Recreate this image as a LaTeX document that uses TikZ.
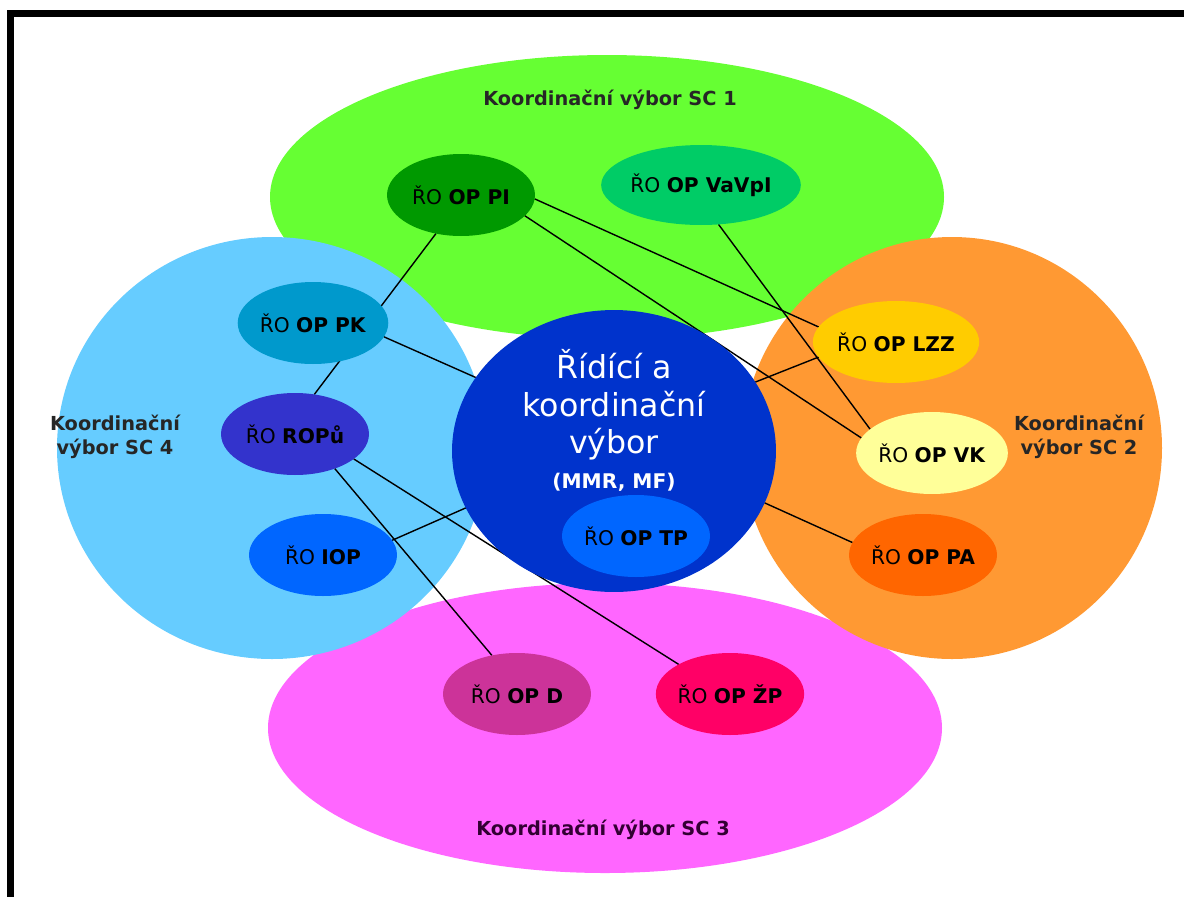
\documentclass[tikz,border=0pt]{standalone}
\usepackage{fontspec}
\setmainfont{DejaVu Sans}
\usetikzlibrary{shapes.geometric}

\pgfdeclarelayer{back}
\pgfdeclarelayer{links}
\pgfsetlayers{back,links,main}

\definecolor{scgreen}{HTML}{66FF33}
\definecolor{scblue}{HTML}{66CCFF}
\definecolor{scorange}{HTML}{FF9933}
\definecolor{scpink}{HTML}{FF66FF}
\definecolor{rkvblue}{HTML}{0033CC}
\definecolor{pigreen}{HTML}{009900}
\definecolor{vavgreen}{HTML}{00CC66}
\definecolor{pkteal}{HTML}{0099CC}
\definecolor{ropviolet}{HTML}{3333CC}
\definecolor{iopblue}{HTML}{0066FF}
\definecolor{lzzyellow}{HTML}{FFCC00}
\definecolor{vkyellow}{HTML}{FFFF99}
\definecolor{paorange}{HTML}{FF6600}
\definecolor{dmagenta}{HTML}{CC3399}
\definecolor{zpred}{HTML}{FF0066}
\definecolor{sctext}{HTML}{262626}
\definecolor{scpurple}{HTML}{330033}

\tikzset{
  ro/.style={ellipse, inner sep=0pt, outer sep=0pt, minimum width=2.96cm,
    minimum height=1.64cm, text=black, font=\fontsize{11.5}{13}\selectfont},
  sclabel/.style={text=sctext, align=center, font=\fontsize{11}{14}\selectfont\bfseries},
  link/.style={black, line width=0.8pt}
}

\begin{document}
\begin{tikzpicture}[x=0.02cm, y=-0.02cm]
\useasboundingbox (0,0) rectangle (1184,897);
\fill[black] (7,10) rectangle (1184,17);
\fill[black] (7,10) rectangle (14,897);

% the four committees SC 1 - SC 4
\begin{pgfonlayer}{back}
\fill[scgreen] (607,197) ellipse [x radius=337, y radius=142];
\fill[scpink] (605,728) ellipse [x radius=337, y radius=145];
\fill[scblue] (272,448) ellipse [x radius=215, y radius=211];
\fill[scorange] (952,448) ellipse [x radius=210, y radius=211];
\end{pgfonlayer}

\node[sclabel] (sc1) at (610,100) {Koordinační výbor SC 1};
\node[sclabel] (sc2) at (1079,437) {Koordinační\\výbor SC 2};
\node[sclabel, text=scpurple] (sc3) at (603,830) {Koordinační výbor SC 3};
\node[sclabel] (sc4) at (115,437) {Koordinační\\výbor SC 4};

% central committee
\node[ellipse, fill=rkvblue, inner sep=0pt, outer sep=0pt, minimum width=6.48cm,
  minimum height=5.64cm] (rkv) at (614,451) {};
\node[text=white, align=center, font=\fontsize{18}{21.5}\selectfont] (rkvtext) at (614,420)
  {Řídící a\\koordinační\\výbor\\[-2pt]{\fontsize{11.5}{14}\selectfont\bfseries (MMR, MF)}};

% managing authorities
\node[ro, fill=pigreen] (pi) at (461,195) {ŘO \textbf{OP PI}};
\node[ro, fill=vavgreen, minimum width=3.68cm, minimum height=1.6cm] (vavpi) at (701,185) {ŘO \textbf{OP VaVpI}};
\node[ro, fill=pkteal] (pk) at (313,323) {ŘO \textbf{OP PK}};
\node[ro, fill=ropviolet] (ropu) at (295,434) {ŘO \textbf{ROPů}};
\node[ro, fill=iopblue] (iop) at (323,555) {ŘO \textbf{IOP}};
\node[ro, fill=iopblue] (tp) at (636,536) {ŘO \textbf{OP TP}};
\node[ro, fill=lzzyellow] (lzz) at (896,342) {ŘO \textbf{OP LZZ}};
\node[ro, fill=vkyellow] (vk) at (932,453) {ŘO \textbf{OP VK}};
\node[ro, fill=paorange] (pa) at (923,555) {ŘO \textbf{OP PA}};
\node[ro, fill=dmagenta] (d) at (517,694) {ŘO \textbf{OP D}};
\node[ro, fill=zpred] (zp) at (730,694) {ŘO \textbf{OP ŽP}};

\begin{pgfonlayer}{links}
\draw[link] (pi.237) -- (ropu.64);
\draw[link] (pi.-3) -- (lzz.169);
\draw[link] (pi.-18) -- (vk.168);
\draw[link] (vavpi.-66) -- (vk.159);
\draw[link] (rkv.26) -- (lzz.191);
\draw[link] (rkv.-19) -- (pa.170);
\draw[link] (pk.-11) -- (rkv.152);
\draw[link] (ropu.-23) -- (zp.150);
\draw[link] (ropu.-41) -- (d.123);
\draw[link] (iop.12) -- (rkv.201);
\end{pgfonlayer}
\end{tikzpicture}
\end{document}
